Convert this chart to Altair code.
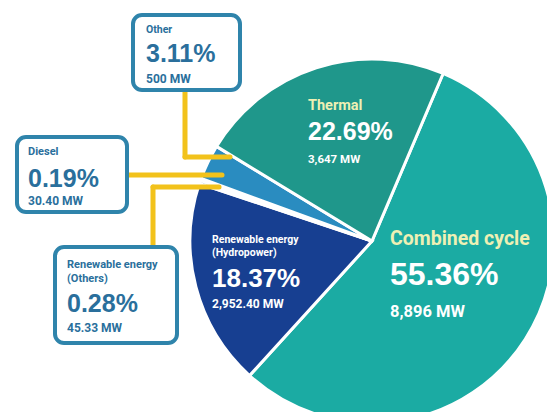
import math
import altair as alt
import pandas as pd

# ---- data ----
categories = ["Combined cycle", "Renewable energy (Hydropower)", "Renewable energy (Others)",
              "Diesel", "Other", "Thermal"]
shares = [55.36, 18.37, 0.28, 0.19, 3.11, 22.69]
capacity_mw = ["8,896", "2,952.40", "45.33", "30.40", "500", "3,647"]
slice_colors = ["#1baba3", "#173f91", "#2a72b5", "#1f5a78", "#2a8cc0", "#1f978b"]

OFF = 8  # page margin
START = math.radians(23)

pie_df = pd.DataFrame({"cat": categories, "share": shares, "order": list(range(len(categories)))})

pie = alt.Chart(pie_df).mark_arc(radius=182, stroke="white", strokeWidth=3).encode(
    theta=alt.Theta("share:Q", stack=True, scale=alt.Scale(range=[START, START + 2 * math.pi])),
    order=alt.Order("order:Q"),
    color=alt.Color("cat:N", scale=alt.Scale(domain=categories, range=slice_colors), legend=None),
    x=alt.value(372 - OFF),
    y=alt.value(241 - OFF),
)

# ---- connector lines (annotation layout) ----
seg = [  # x, y, x2, y2 in page pixels
    (185, 90, 185, 157), (185, 157, 230, 157),
    (127, 175, 222, 175),
    (153, 187, 219, 187), (153, 187, 153, 247),
]
seg_df = pd.DataFrame([{"x": a - OFF, "y": b - OFF, "x2": c - OFF, "y2": d - OFF} for a, b, c, d in seg])
lines = alt.Chart(seg_df).mark_rule(color="#f2c21b", strokeWidth=5, strokeCap="round").encode(
    x=alt.X("x:Q", scale=None), y=alt.Y("y:Q", scale=None),
    x2="x2:Q", y2="y2:Q",
)

# ---- label boxes ----
boxes_layout = [(133, 15, 240, 90), (17, 137, 127, 212), (55, 247, 177, 343)]
box_df = pd.DataFrame([{"x": a - OFF, "y": b - OFF, "x2": c - OFF, "y2": d - OFF} for a, b, c, d in boxes_layout])
boxes = alt.Chart(box_df).mark_rect(fill="white", stroke="#2f84ab", strokeWidth=4, cornerRadius=9).encode(
    x=alt.X("x:Q", scale=None), y=alt.Y("y:Q", scale=None),
    x2="x2:Q", y2="y2:Q",
)

pct = [f"{s:.2f}%" for s in shares]
mwl = [f"{m} MW" for m in capacity_mw]
YEL = "#eef0b4"
WH = "#ffffff"
BL = "#2a6f9c"

name_rows = [
    # text, x, baseline y, size, color
    ("Combined cycle", 390, 245, 19.5, YEL),
    (mwl[0], 390, 317, 16.5, WH),
    ("Renewable energy", 212, 243, 10.5, WH),
    ("(Hydropower)", 212, 256, 10.5, WH),
    (mwl[1], 212, 308, 12, WH),
    ("Renewable energy", 67, 268, 11, BL),
    ("(Others)", 67, 282, 11, BL),
    (mwl[2], 67, 332, 12, BL),
    ("Diesel", 28, 155, 11, BL),
    (mwl[3], 28, 205, 12, BL),
    ("Other", 146, 33, 10.5, BL),
    (mwl[4], 146, 83, 12, BL),
    ("Thermal", 308, 110, 14.5, YEL),
    (mwl[5], 308, 163, 11.5, WH),
]
pct_rows = [
    (pct[0], 390, 285, 32, WH),
    (pct[1], 212, 287, 26, WH),
    (pct[2], 67, 312, 25, BL),
    (pct[3], 28, 187, 25, BL),
    (pct[4], 146, 62, 25, BL),
    (pct[5], 308, 140, 25, WH),
]


def text_layer(rows, font, weight):
    df = pd.DataFrame([{"t": t, "x": x - OFF, "y": y - OFF, "s": s, "c": c} for t, x, y, s, c in rows])
    return alt.Chart(df).mark_text(align="left", baseline="alphabetic", font=font, fontWeight=weight).encode(
        x=alt.X("x:Q", scale=None), y=alt.Y("y:Q", scale=None),
        text="t:N", size=alt.Size("s:Q", scale=None), color=alt.Color("c:N", scale=None),
    )


names = text_layer(name_rows, "Roboto, sans-serif", "bold")
pcts = text_layer(pct_rows, "Liberation Sans, Arial, sans-serif", "bold")

chart = alt.layer(pie, lines, boxes, names, pcts).properties(
    width=539, height=404, padding=0, autosize="none", background="white"
).configure_view(strokeWidth=0)

chart.save("out.html", embed_options={"renderer": "svg", "actions": False})
